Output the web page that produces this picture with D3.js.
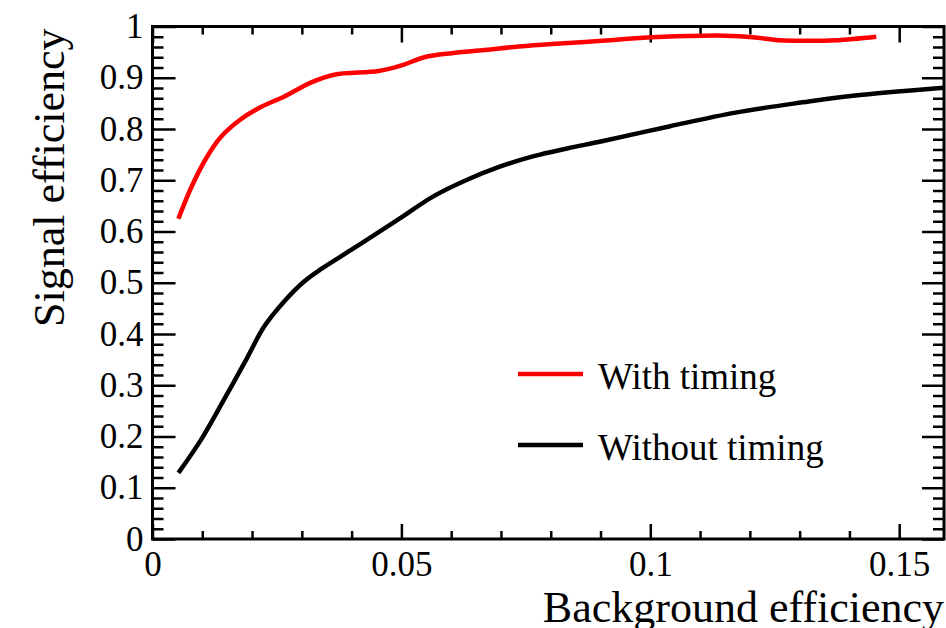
<!DOCTYPE html>
<html lang="en">
<head>
  <meta charset="UTF-8">
  <title>Signal vs Background efficiency</title>
  <script src="https://d3js.org/d3.v7.min.js"></script>
</head>
<body style="margin:0; background:#fff">
  <div id="chart"></div>
  <script>
    // data
    const withX = [0.0052, 0.0076, 0.0106, 0.0136, 0.0176, 0.0216, 0.0264, 0.0319, 0.0365, 0.0454, 0.0500, 0.0546,
                   0.0601, 0.0667, 0.0736, 0.0802, 0.0903, 0.1004, 0.1105, 0.1151, 0.1206, 0.1260, 0.1306,
                   0.1373, 0.1454];
    const withY = [0.625, 0.682, 0.740, 0.783, 0.818, 0.842, 0.863, 0.891, 0.906, 0.913, 0.924, 0.940,
                   0.948, 0.954, 0.961, 0.966, 0.972, 0.979, 0.982, 0.982, 0.979, 0.973, 0.972,
                   0.973, 0.980];

    const withoutX = [0.0052, 0.0097, 0.0143, 0.0191, 0.0224, 0.0264, 0.0304, 0.0339, 0.0399, 0.0466, 0.0496,
                      0.0565, 0.0632, 0.0699, 0.0766, 0.0833, 0.0903, 0.1038, 0.1171, 0.1306, 0.1407, 0.1595];
    const withoutY = [0.129, 0.193, 0.271, 0.355, 0.414, 0.463, 0.502, 0.527, 0.564, 0.606, 0.625,
                      0.669, 0.701, 0.727, 0.747, 0.762, 0.776, 0.805, 0.832, 0.852, 0.865, 0.881];

    const xTicks = [0, 0.05, 0.1, 0.15];
    const xTickLabels = ["0", "0.05", "0.1", "0.15"];
    const yTicks = [0, 0.1, 0.2, 0.3, 0.4, 0.5, 0.6, 0.7, 0.8, 0.9, 1];
    const yTickLabels = ["0", "0.1", "0.2", "0.3", "0.4", "0.5", "0.6", "0.7", "0.8", "0.9", "1"];

    const seriesNames = ["With timing", "Without timing"];
    const seriesColors = ["#ff0000", "#000000"];

    const serif = '"Liberation Serif"';

    // dimensions
    const width = 946, height = 628;
    const frame = { left: 152.5, right: 944, top: 26.5, bottom: 539 };

    const svg = d3.select("#chart").append("svg")
      .attr("width", width)
      .attr("height", height);

    const x = d3.scaleLinear().domain([0, 0.159]).range([frame.left, frame.right]);
    const y = d3.scaleLinear().domain([0, 1]).range([frame.bottom, frame.top]);

    const plotW = frame.right - frame.left, plotH = frame.bottom - frame.top;

    // clip for curves
    svg.append("clipPath").attr("id", "clip")
      .append("rect").attr("x", frame.left).attr("y", frame.top).attr("width", plotW).attr("height", plotH);

    // minor ticks (drawn inward)
    const xMinor = x.ticks(16).filter(v => !xTicks.some(t => Math.abs(t - v) < 1e-9));
    const yMinor = y.ticks(50).filter(v => !yTicks.some(t => Math.abs(t - v) < 1e-9));

    svg.append("g").attr("transform", `translate(0,${frame.bottom})`)
      .call(d3.axisBottom(x).tickValues(xMinor).tickSize(-8).tickFormat(""));
    svg.append("g").attr("transform", `translate(0,${frame.top})`)
      .call(d3.axisTop(x).tickValues(xMinor).tickSize(-8).tickFormat(""));
    svg.append("g").attr("transform", `translate(${frame.left},0)`)
      .call(d3.axisLeft(y).tickValues(yMinor).tickSize(-11).tickFormat(""));
    svg.append("g").attr("transform", `translate(${frame.right},0)`)
      .call(d3.axisRight(y).tickValues(yMinor).tickSize(-11).tickFormat(""));

    // major ticks
    svg.append("g").attr("transform", `translate(0,${frame.bottom})`)
      .call(d3.axisBottom(x).tickValues(xTicks).tickSize(-15).tickPadding(12)
        .tickFormat((d, i) => xTickLabels[i]));
    svg.append("g").attr("transform", `translate(0,${frame.top})`)
      .call(d3.axisTop(x).tickValues(xTicks).tickSize(-16).tickFormat(""));
    svg.append("g").attr("transform", `translate(${frame.left},0)`)
      .call(d3.axisLeft(y).tickValues(yTicks).tickSize(-23).tickPadding(9)
        .tickFormat((d, i) => yTickLabels[i]));
    svg.append("g").attr("transform", `translate(${frame.right},0)`)
      .call(d3.axisRight(y).tickValues(yTicks).tickSize(-22).tickFormat(""));

    svg.selectAll(".domain").remove();
    svg.selectAll(".tick line").attr("stroke", "#000").attr("stroke-width", 2.5);
    svg.selectAll(".tick text")
      .style("font-family", serif)
      .style("font-size", "35px")
      .attr("fill", "#000");

    // frame
    svg.append("rect")
      .attr("x", frame.left).attr("y", frame.top).attr("width", plotW).attr("height", plotH)
      .attr("fill", "none").attr("stroke", "#000").attr("stroke-width", 3);

    // curves
    const line = d3.line()
      .x(d => x(d[0]))
      .y(d => y(d[1]))
      .curve(d3.curveCatmullRom.alpha(0.5));

    const series = [d3.zip(withX, withY), d3.zip(withoutX, withoutY)];

    svg.append("g").attr("clip-path", "url(#clip)")
      .selectAll("path")
      .data(series)
      .enter()
      .append("path")
      .attr("d", line)
      .attr("fill", "none")
      .attr("stroke", (d, i) => seriesColors[i])
      .attr("stroke-width", 4.5)
      .attr("stroke-linejoin", "round");

    // legend
    const legend = svg.append("g");
    seriesNames.forEach((name, i) => {
      const ly = 374 + i * 71;
      legend.append("line")
        .attr("x1", 518).attr("x2", 583).attr("y1", ly).attr("y2", ly)
        .attr("stroke", seriesColors[i]).attr("stroke-width", 4.5);
      legend.append("text")
        .style("font-family", serif).style("font-size", "37px")
        .attr("x", 598).attr("y", ly + 15)
        .text(name);
    });

    // axis titles
    svg.append("text")
      .style("font-family", serif).style("font-size", "44px")
      .attr("x", frame.right).attr("y", 622)
      .attr("text-anchor", "end")
      .text("Background efficiency");

    svg.append("text")
      .style("font-family", serif).style("font-size", "44px")
      .attr("transform", `translate(64,${frame.top + 2}) rotate(-90)`)
      .attr("text-anchor", "end")
      .text("Signal efficiency");
  </script>
</body>
</html>
